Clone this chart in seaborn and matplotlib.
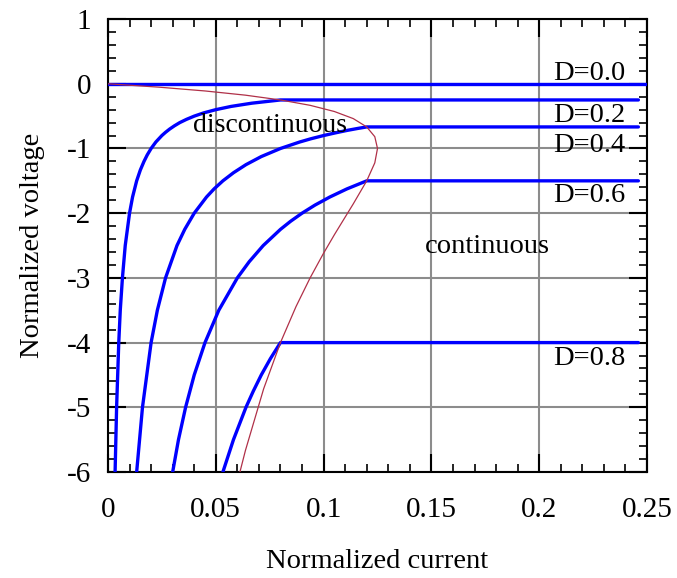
import numpy as np
import pandas as pd
import seaborn as sns
import matplotlib
matplotlib.use("Agg")
import matplotlib.pyplot as plt
from matplotlib.ticker import MultipleLocator, FuncFormatter

# values
d_labels = ["D=0.0", "D=0.2", "D=0.4", "D=0.6", "D=0.8"]

cur_d00 = [0.0, 0.25]
vol_d00 = [0.0, 0.0]

cur_d02 = [0.0033, 0.004, 0.005, 0.0057, 0.0067, 0.008, 0.01, 0.0114, 0.0133, 0.015,
           0.0167, 0.0182, 0.02, 0.0222, 0.025, 0.0267, 0.0286, 0.0308, 0.0333, 0.0364,
           0.04, 0.0444, 0.05, 0.0571, 0.0667, 0.08, 0.246]
vol_d02 = [-6.0, -5.0, -4.0, -3.5, -3.0, -2.5, -2.0, -1.75, -1.5, -1.333,
           -1.2, -1.1, -1.0, -0.9, -0.8, -0.75, -0.7, -0.65, -0.6, -0.55,
           -0.5, -0.45, -0.4, -0.35, -0.3, -0.25, -0.25]

cur_d04 = [0.0133, 0.016, 0.02, 0.0229, 0.0267, 0.032, 0.0356, 0.04, 0.0457, 0.0492,
           0.0533, 0.0582, 0.064, 0.0711, 0.08, 0.0889, 0.0941, 0.1, 0.1053, 0.111,
           0.1159, 0.12, 0.246]
vol_d04 = [-6.0, -5.0, -4.0, -3.5, -3.0, -2.5, -2.25, -2.0, -1.75, -1.625,
           -1.5, -1.375, -1.25, -1.125, -1.0, -0.9, -0.85, -0.8, -0.76, -0.72,
           -0.69, -0.667, -0.667]

cur_d06 = [0.03, 0.0327, 0.036, 0.04, 0.045, 0.0514, 0.06, 0.0655, 0.072, 0.08,
           0.0847, 0.09, 0.096, 0.1029, 0.1108, 0.12, 0.246]
vol_d06 = [-6.0, -5.5, -5.0, -4.5, -4.0, -3.5, -3.0, -2.75, -2.5, -2.25,
           -2.125, -2.0, -1.875, -1.75, -1.625, -1.5, -1.5]

cur_d08 = [0.0533, 0.0582, 0.064, 0.0674, 0.0711, 0.0753, 0.08, 0.246]
vol_d08 = [-6.0, -5.5, -5.0, -4.75, -4.5, -4.25, -4.0, -4.0]

# boundary between discontinuous and continuous mode
cur_bnd = [0.0, 0.02375, 0.045, 0.06375, 0.08, 0.09375, 0.105, 0.11375, 0.12, 0.12375,
           0.125, 0.12375, 0.12, 0.11375, 0.1097, 0.105, 0.0997, 0.09375, 0.0872, 0.08,
           0.0722, 0.06375, 0.0612]
vol_bnd = [0.0, -0.0526, -0.111, -0.176, -0.25, -0.333, -0.4286, -0.538, -0.667, -0.818,
           -1.0, -1.222, -1.5, -1.857, -2.077, -2.333, -2.636, -3.0, -3.444, -4.0,
           -4.714, -5.667, -6.0]

sns.set_style("white")
plt.rcParams['font.family'] = ['Liberation Serif', 'DejaVu Serif']
plt.rcParams['text.color'] = 'black'

fig = plt.figure(figsize=(6.77, 5.78), dpi=100)
ax = fig.add_axes([0.1595, 0.1834, 0.7962, 0.7836])

curves = [(cur_d00, vol_d00), (cur_d02, vol_d02), (cur_d04, vol_d04),
          (cur_d06, vol_d06), (cur_d08, vol_d08)]
for (cx, vy), lab in zip(curves, d_labels):
    df = pd.DataFrame({"current": cx, "voltage": vy})
    sns.lineplot(data=df, x="current", y="voltage", sort=False, estimator=None,
                 color="#0000ff", lw=2.4, ax=ax, zorder=3)

bnd = pd.DataFrame({"current": cur_bnd, "voltage": vol_bnd})
sns.lineplot(data=bnd, x="current", y="voltage", sort=False, estimator=None,
             color="#b03048", lw=0.9, ax=ax, zorder=4)

ax.set_xlim(0, 0.25)
ax.set_ylim(-6, 1)
ax.xaxis.set_major_locator(MultipleLocator(0.05))
ax.xaxis.set_minor_locator(MultipleLocator(0.01))
ax.yaxis.set_major_locator(MultipleLocator(1))
ax.yaxis.set_minor_locator(MultipleLocator(0.2))
fmt = FuncFormatter(lambda v, p: "%g" % round(v, 3))
ax.xaxis.set_major_formatter(fmt)
ax.yaxis.set_major_formatter(fmt)

ax.grid(True, which="major", color="#8c8c8c", lw=1.5)
ax.set_axisbelow(True)
ax.tick_params(which="both", direction="in", top=True, right=True, bottom=True,
               left=True, colors="black", labelsize=21)
ax.tick_params(which="major", length=13, width=1.5)
ax.tick_params(which="minor", length=6, width=1.2)
ax.tick_params(axis="x", pad=18)
ax.tick_params(axis="y", pad=12)
for s in ax.spines.values():
    s.set_color("black")
    s.set_linewidth(1.5)

ax.set_xlabel("Normalized current", fontsize=20.5, labelpad=19, color="black")
ax.set_ylabel("Normalized voltage", fontsize=20.5, labelpad=16, color="black")

ax.text(0.0394, -0.75, "discontinuous", fontsize=20, zorder=5)
ax.text(0.147, -2.62, "continuous", fontsize=20.5, zorder=5)
lab_y = [0.057, -0.59, -1.05, -1.83, -4.35]
for lab, yy in zip(d_labels, lab_y):
    ax.text(0.2064, yy, lab, fontsize=20.5, zorder=5)

fig.savefig("out.png", dpi=100)
